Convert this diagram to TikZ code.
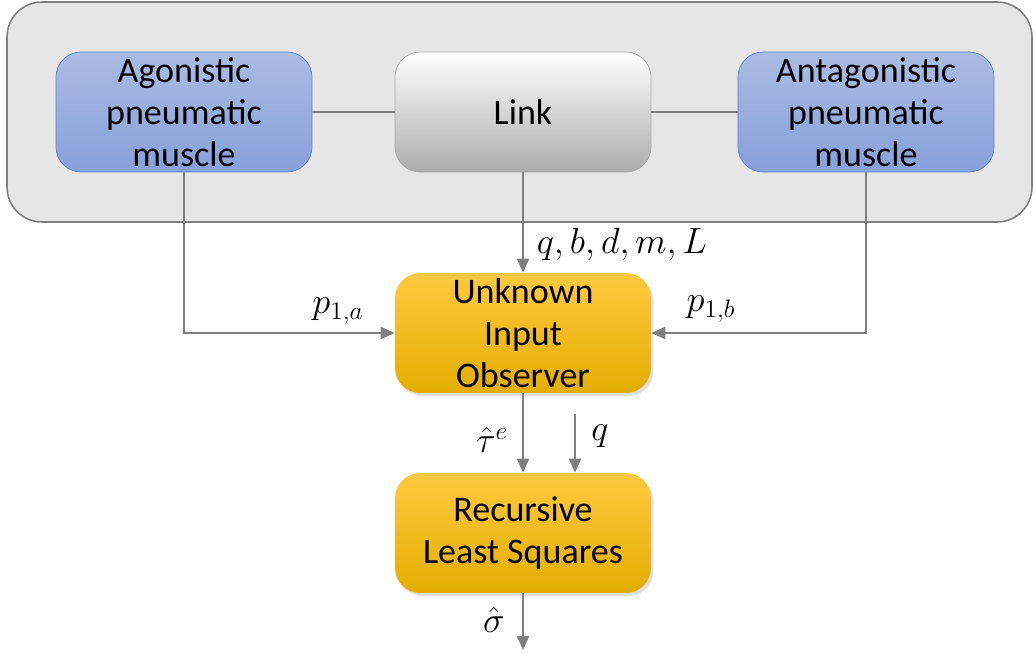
\documentclass[tikz,border=0pt]{standalone}
\usepackage{fontspec}
\setmainfont{Carlito}
\usetikzlibrary{arrows.meta,shadows}
\definecolor{wireGray}{HTML}{7F7F7F}
\definecolor{panelGray}{HTML}{E6E6E6}
\definecolor{blueTop}{HTML}{ABBCE3}
\definecolor{blueBot}{HTML}{87A0DA}
\definecolor{blueEdge}{HTML}{5B84CC}
\definecolor{orangeTop}{HTML}{FFC940}
\definecolor{orangeMid}{HTML}{FFC000}
\definecolor{orangeBot}{HTML}{E3AE00}
\tikzset{
  box/.style={minimum width=5.12cm, minimum height=2.4cm, rounded corners=0.5cm,
    align=center, font=\fontsize{20.5}{24}\selectfont, inner sep=0pt},
  musclebox/.style={box, draw=blueEdge, top color=blueTop, bottom color=blueBot},
  linkbox/.style={box, draw=gray!70, top color=white, bottom color=gray!65},
  blockbox/.style={box, top color=orangeTop, middle color=orangeMid, bottom color=orangeBot,
    drop shadow={shadow xshift=0.05cm, shadow yshift=-0.06cm, opacity=0.25}},
  wire/.style={wireGray, line width=0.9pt},
  feed/.style={wire, -{Triangle[length=8pt,width=7pt]}},
  sig/.style={font=\fontsize{20.5}{24}\selectfont, inner sep=1pt}
}
\begin{document}
\begin{tikzpicture}[x=0.02cm, y=-0.02cm]
  \useasboundingbox (0,0) rectangle (1035,653);
  % outer panel
  \draw[wireGray, line width=0.9pt, fill=panelGray, rounded corners=0.7cm] (7,2) rectangle (1032,222);
  % plant blocks
  \node[musclebox] (ago) at (184,112) {Agonistic\\pneumatic\\muscle};
  \node[linkbox] (link) at (523,112) {Link};
  \node[musclebox] (anta) at (866,112) {Antagonistic\\pneumatic\\muscle};
  \draw[wire] (ago) -- (link);
  \draw[wire] (link) -- (anta);
  % estimation blocks
  \node[blockbox] (uio) at (523,333) {Unknown\\Input\\Observer};
  \node[blockbox] (rls) at (523,533) {Recursive\\Least Squares};
  \coordinate (qin) at (575,414);
  \coordinate (sigout) at (523,650);
  % signals
  \draw[feed] (link) -- (uio);
  \draw[feed] (ago.south) |- (uio.west);
  \draw[feed] (anta.south) |- (uio.east);
  \draw[feed] (uio) -- (rls);
  \draw[feed] (qin) -- (qin |- rls.north);
  \draw[feed] (rls) -- (sigout);
  \node[sig] (lq) at (622,244) {$q, b, d, m, L$};
  \node[sig] (lpa) at (338,311) {$p_{1,a}$};
  \node[sig] (lpb) at (711,309) {$p_{1,b}$};
  \node[sig] (ltau) at (492,440) {$\hat{\tau}^{e}$};
  \node[sig] (lq2) at (600,436) {$q$};
  \node[sig] (lsig) at (494,620) {$\hat{\sigma}$};
\end{tikzpicture}
\end{document}
